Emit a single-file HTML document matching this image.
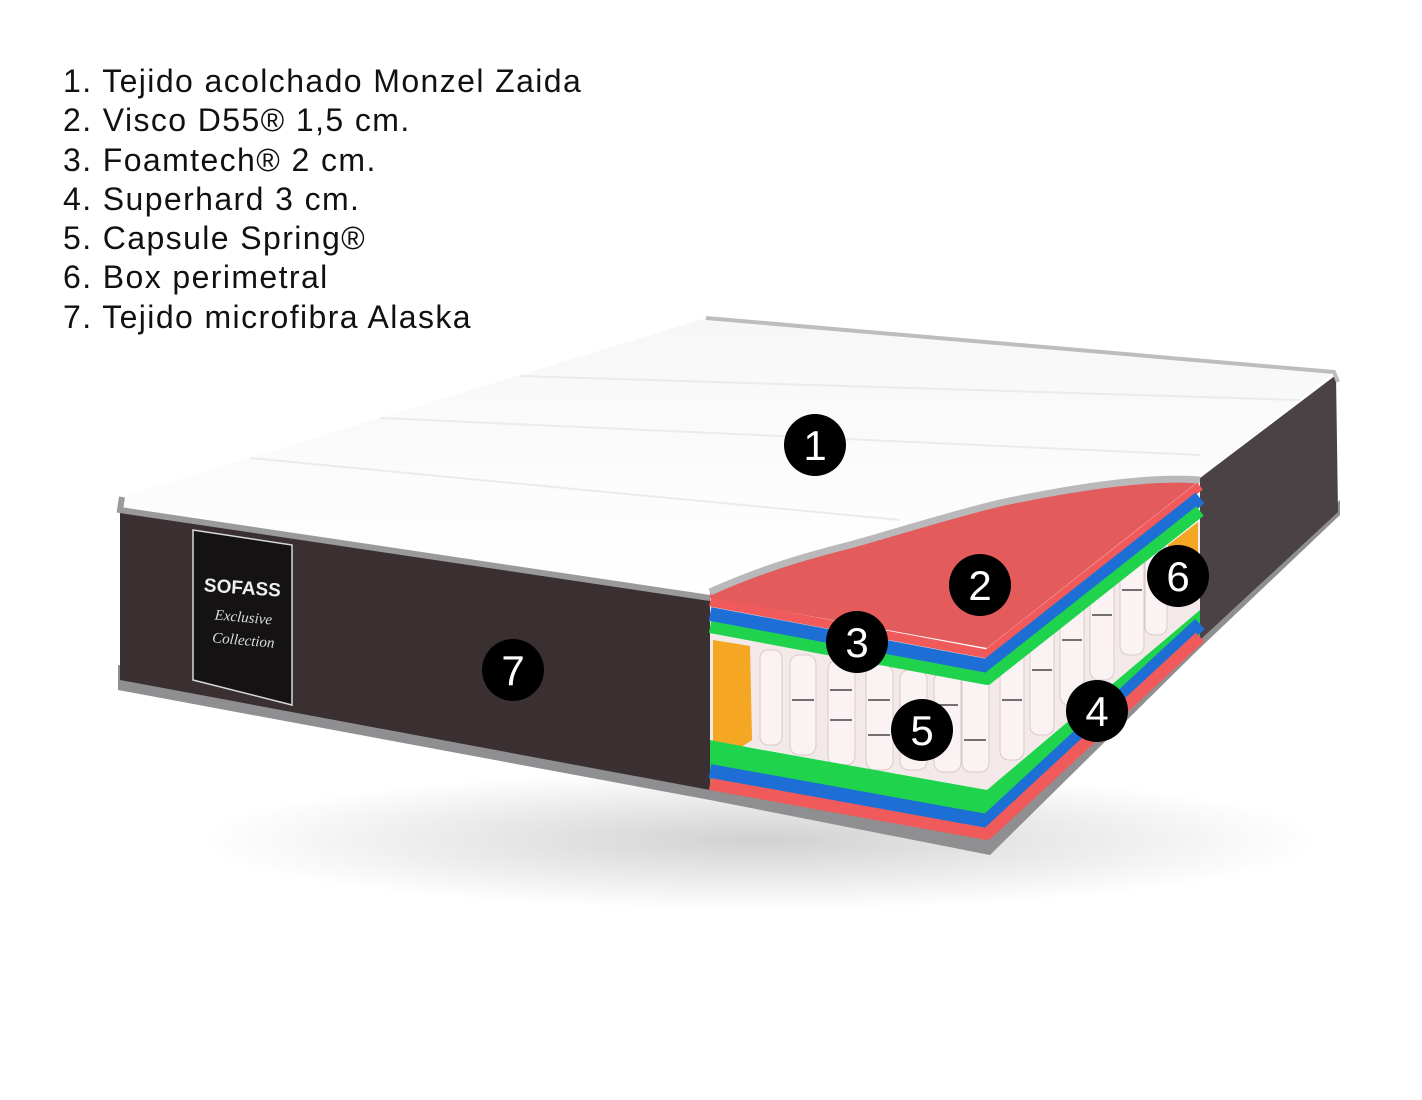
<!DOCTYPE html>
<html><head><meta charset="utf-8"><style>
html,body{margin:0;padding:0;background:#fff;width:1422px;height:1100px;overflow:hidden}
.list{position:absolute;left:63px;top:62px;font-family:"Liberation Sans",sans-serif;font-size:32px;line-height:39.3px;color:#111;letter-spacing:1.4px}
svg{position:absolute;left:0;top:0}
</style></head><body>
<svg width="1422" height="1100" viewBox="0 0 1422 1100">
<defs>
<radialGradient id="sh" cx="0.5" cy="0.5" r="0.5"><stop offset="0" stop-color="#000" stop-opacity="0.18"/><stop offset="1" stop-color="#000" stop-opacity="0"/></radialGradient>
<linearGradient id="top" x1="0" y1="0" x2="0" y2="1"><stop offset="0" stop-color="#f7f7f7"/><stop offset="1" stop-color="#ffffff"/></linearGradient>
</defs>
<ellipse cx="760" cy="840" rx="560" ry="70" fill="url(#sh)"/>
<polygon points="118,665 710,770 987,830 1200,630 1340,500 1340,515 1200,648 990,855 710,800 118,690" fill="#8f8f92"/>
<polygon points="120,508 710,598 710,790 120,680" fill="#3a3031"/>
<polygon points="1200,478 1336,375 1338,512 1200,640" fill="#4a4244"/>
<polygon points="122,497 706,318 1334,372 1200,478 1160,478 1050,492 950,515 850,545 760,572 710,592 120,510" fill="url(#top)"/>
<polyline points="122,497 120,510 710,598" fill="none" stroke="#9a9a9c" stroke-width="6"/>
<polyline points="706,318 1334,372 1338,382" fill="none" stroke="#bdbdbf" stroke-width="4"/>
<g stroke="#ebebeb" stroke-width="2" fill="none">
<line x1="250" y1="458" x2="900" y2="520"/><line x1="380" y1="418" x2="1200" y2="455"/><line x1="520" y1="376" x2="1300" y2="400"/>
</g>
<polygon points="193,530 292,545 292,705 193,680" fill="#141213" stroke="#d8d8d8" stroke-width="1.5"/>
<text x="242" y="594" font-family="Liberation Sans,sans-serif" font-weight="bold" font-size="19" fill="#eee" text-anchor="middle" transform="rotate(4 242 594)">SOFASS</text>
<text x="243" y="622" font-family="Liberation Serif,serif" font-style="italic" font-size="15" fill="#ddd" text-anchor="middle" transform="rotate(5 243 622)">Exclusive</text>
<text x="243" y="645" font-family="Liberation Serif,serif" font-style="italic" font-size="15" fill="#ddd" text-anchor="middle" transform="rotate(5 243 645)">Collection</text>
<polygon points="710,592 760,572 850,545 950,515 1050,492 1160,478 1200,480 987,648 710,598" fill="#e35b5b"/>
<path d="M710,592 C750,574 790,560 850,545 C900,531 950,515 1000,503 C1080,486 1150,476 1200,480" fill="none" stroke="#b9b9bb" stroke-width="7"/>
<polygon points="710,630 987,685 1200,520 1200,610 987,790 710,740" fill="#f3e9e9"/>
<g fill="#fbf3f3" stroke="#d9caca" stroke-width="1">
<rect x="760" y="650" width="22" height="95" rx="8"/><rect x="790" y="655" width="26" height="100" rx="9"/><rect x="828" y="660" width="27" height="105" rx="9"/><rect x="866" y="665" width="27" height="105" rx="9"/><rect x="900" y="670" width="27" height="100" rx="9"/><rect x="934" y="672" width="27" height="100" rx="9"/><rect x="962" y="672" width="27" height="100" rx="9"/>
<rect x="1000" y="650" width="24" height="110" rx="9"/><rect x="1030" y="625" width="24" height="110" rx="9"/><rect x="1060" y="600" width="24" height="105" rx="9"/><rect x="1090" y="575" width="24" height="105" rx="9"/><rect x="1120" y="555" width="24" height="100" rx="9"/><rect x="1145" y="545" width="22" height="90" rx="8"/>
</g>
<g stroke="#444" stroke-width="1.5">
<line x1="792" y1="700" x2="814" y2="700"/><line x1="830" y1="690" x2="852" y2="690"/><line x1="830" y1="720" x2="852" y2="720"/><line x1="868" y1="700" x2="890" y2="700"/><line x1="868" y1="735" x2="890" y2="735"/><line x1="936" y1="705" x2="958" y2="705"/><line x1="964" y1="740" x2="986" y2="740"/><line x1="1002" y1="700" x2="1022" y2="700"/><line x1="1032" y1="670" x2="1052" y2="670"/><line x1="1062" y1="640" x2="1082" y2="640"/><line x1="1092" y1="615" x2="1112" y2="615"/><line x1="1122" y1="590" x2="1142" y2="590"/>
</g>
<polygon points="713,640 750,646 752,740 740,748 713,742" fill="#f5a623"/>
<polygon points="1168,545 1198,522 1198,600 1168,605" fill="#f5a623"/>
<g fill="none" stroke-linejoin="round">
<polyline points="710,602 987,654 1200,486" stroke="#f05a5a" stroke-width="9"/>
<polyline points="710,614 987,666 1200,498" stroke="#1d6fd6" stroke-width="14"/>
<polyline points="710,627 987,679 1200,511" stroke="#1fd34c" stroke-width="12"/>
</g>
<polygon points="710,740 752,748 987,790 1200,610 1200,640 987,838 710,788" fill="#1fd34c"/>
<g fill="none" stroke-linejoin="round">
<polyline points="710,771 987,821 1200,624" stroke="#1d6fd6" stroke-width="14"/>
<polyline points="710,784 987,834 1200,637" stroke="#f05a5a" stroke-width="12"/>
</g>
<g font-family="Liberation Sans,sans-serif" font-size="42" fill="#fff" text-anchor="middle">
<circle cx="815" cy="445" r="31" fill="#000"/><text x="815" y="460">1</text>
<circle cx="980" cy="585" r="31" fill="#000"/><text x="980" y="600">2</text>
<circle cx="857" cy="642" r="31" fill="#000"/><text x="857" y="657">3</text>
<circle cx="1097" cy="711" r="31" fill="#000"/><text x="1097" y="726">4</text>
<circle cx="922" cy="730" r="31" fill="#000"/><text x="922" y="745">5</text>
<circle cx="1178" cy="576" r="31" fill="#000"/><text x="1178" y="591">6</text>
<circle cx="513" cy="670" r="31" fill="#000"/><text x="513" y="685">7</text>
</g>
</svg>
<div class="list">1. Tejido acolchado Monzel Zaida<br>2. Visco D55® 1,5 cm.<br>3. Foamtech® 2 cm.<br>4. Superhard 3 cm.<br>5. Capsule Spring®<br>6. Box perimetral<br>7. Tejido microfibra Alaska</div>
</body></html>
